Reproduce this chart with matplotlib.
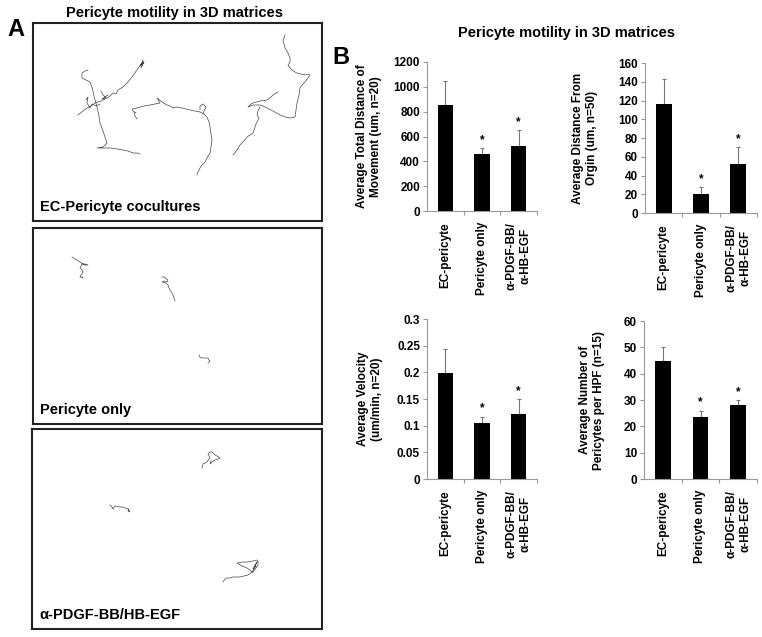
import matplotlib
matplotlib.use("Agg")
import matplotlib.pyplot as plt

plt.rcParams['font.family'] = ['Liberation Sans', 'DejaVu Sans']
plt.rcParams['font.weight'] = 'bold'

W, H = 762, 637

# ---------------- data ----------------
categories = ["EC-pericyte", "Pericyte only", "\u03b1-PDGF-BB/\n\u03b1-HB-EGF"]

dist_total = [855, 460, 525]
dist_total_err = [195, 45, 125]
dist_origin = [116, 20, 52]
dist_origin_err = [27, 8, 18]
velocity = [0.198, 0.105, 0.121]
velocity_err = [0.045, 0.012, 0.029]
n_pericytes = [45, 23.5, 28]
n_pericytes_err = [5, 2.5, 2]
significant = [False, True, True]

ticks_total = [0, 200, 400, 600, 800, 1000, 1200]
ticks_origin = [0, 20, 40, 60, 80, 100, 120, 140, 160]
ticks_velocity = [0, 0.05, 0.1, 0.15, 0.2, 0.25, 0.3]
ticklabels_velocity = ["0", "0.05", "0.1", "0.15", "0.2", "0.25", "0.3"]
ticks_number = [0, 10, 20, 30, 40, 50, 60]

ylabel_total = "Average Total Distance of\nMovement (um, n=20)"
ylabel_origin = "Average Distance From\nOrgin (um, n=50)"
ylabel_velocity = "Average Velocity\n(um/min, n=20)"
ylabel_number = "Average Number of\nPericytes per HPF (n=15)"

title_text = "Pericyte motility in 3D matrices"
box_labels = ["EC-Pericyte cocultures", "Pericyte only", "\u03b1-PDGF-BB/HB-EGF"]

# cell tracks (image pixel coordinates)
tracks_coculture = [
    [(78, 115), (83, 111), (87, 108), (91, 106), (95, 103), (101, 101), (107, 98), (110, 96),
     (113, 93), (116, 94), (118, 90), (123, 87), (127, 83), (132, 77), (134, 74), (137, 70),
     (139, 67), (142, 63), (140, 66), (143, 61), (141, 68), (144, 62), (142, 65), (143, 60)],
    [(88, 70), (85, 71), (82, 73), (82, 78), (86, 80), (90, 82), (92, 87), (94, 96), (97, 107),
     (99, 116), (100, 123), (103, 131), (105, 137), (107, 143), (103, 147), (97, 148), (104, 148),
     (110, 148), (117, 149), (123, 150), (128, 151), (133, 153), (137, 153), (140, 154)],
    [(86, 100), (88, 97), (87, 103), (90, 108), (92, 104), (96, 106), (100, 104)],
    [(101, 91), (103, 95), (106, 98), (102, 99), (108, 95)],
    [(136, 113), (133, 111), (132, 109), (137, 108), (144, 106), (150, 105), (155, 104),
     (160, 103), (157, 98), (162, 102), (167, 105), (170, 106), (173, 108), (177, 107),
     (182, 108), (186, 109), (190, 110), (195, 111), (200, 112), (204, 114), (207, 117),
     (209, 122), (210, 127), (211, 134), (212, 140), (211, 147), (210, 153), (207, 158),
     (205, 162), (202, 165), (200, 168), (198, 172), (197, 175)],
    [(200, 110), (200, 106), (203, 104), (206, 107), (204, 111), (203, 114)],
    [(134, 112), (135, 116), (137, 119)],
    [(285, 35), (284, 38), (283, 40), (284, 44), (285, 48), (287, 51), (288, 53), (290, 58),
     (290, 62), (288, 65), (290, 68), (292, 70), (295, 72), (297, 73), (301, 74), (305, 75),
     (308, 74), (310, 75), (308, 78), (305, 82), (302, 85), (300, 88), (299, 95), (297, 103),
     (296, 110), (295, 117), (290, 118), (285, 117), (280, 115), (273, 111), (267, 108),
     (263, 106), (260, 105), (256, 105), (253, 105), (248, 107), (251, 104), (253, 103),
     (260, 101), (267, 100), (270, 98), (273, 95), (276, 93), (278, 92)],
    [(260, 107), (258, 111), (257, 115), (259, 118), (258, 120), (256, 124), (255, 127),
     (254, 130), (253, 133), (250, 135), (247, 137), (244, 141), (240, 145), (237, 150),
     (233, 155)],
]
tracks_pericyte = [
    [(72, 257), (75, 259), (77, 260), (80, 262), (83, 264), (85, 265), (88, 265), (85, 264),
     (82, 264), (80, 268), (82, 270), (83, 272), (81, 275), (80, 277), (83, 277), (82, 278)],
    [(162, 277), (165, 277), (165, 278), (168, 280), (167, 282), (164, 281), (162, 282),
     (166, 283), (168, 285), (169, 288), (170, 290), (172, 293), (173, 295), (174, 298),
     (175, 301)],
    [(199, 355), (200, 357), (202, 358), (205, 358), (208, 358), (209, 360), (210, 361),
     (209, 362), (208, 363)],
]
tracks_antibody = [
    [(202, 468), (203, 464), (205, 463), (207, 462), (209, 459), (210, 458), (209, 456),
     (208, 454), (210, 452), (212, 452), (215, 455), (217, 456), (220, 458), (218, 459),
     (215, 460), (212, 462), (210, 464), (211, 461)],
    [(110, 505), (112, 507), (113, 509), (115, 506), (116, 506), (120, 507), (123, 507),
     (125, 508), (128, 509), (130, 512), (128, 511), (129, 509)],
    [(223, 582), (225, 579), (227, 578), (230, 578), (233, 577), (237, 577), (240, 577),
     (244, 576), (248, 575), (251, 573), (253, 572), (256, 568), (258, 565), (258, 562),
     (257, 560), (253, 561), (248, 562), (243, 562), (237, 563), (242, 566), (247, 568),
     (250, 570), (252, 572), (254, 569), (255, 567), (256, 564), (257, 562), (255, 565),
     (253, 569), (256, 566)],
]

# ---------------- layout helpers ----------------
def ax_px(fig, left, top, right, bottom):
    return fig.add_axes([left / W, 1 - bottom / H, (right - left) / W, (bottom - top) / H])

fig = plt.figure(figsize=(W / 100, H / 100), dpi=100)

# ---------------- panel A ----------------
boxes = [(33, 23, 322, 221), (33, 228, 322, 424), (32, 429, 322, 629)]
all_tracks = [tracks_coculture, tracks_pericyte, tracks_antibody]
for (l, t, r, b), tracks, lab in zip(boxes, all_tracks, box_labels):
    ax = ax_px(fig, l, t, r, b)
    ax.set_xlim(l, r)
    ax.set_ylim(b, t)
    ax.set_xticks([])
    ax.set_yticks([])
    for s in ax.spines.values():
        s.set_linewidth(1.5)
        s.set_color('#222222')
    for tr in tracks:
        xs = [p[0] for p in tr]
        ys = [p[1] for p in tr]
        ax.plot(xs, ys, color='#444444', lw=0.5)
    ax.text(0.025, 0.035, lab, transform=ax.transAxes, fontsize=10.5,
            fontweight='bold', ha='left', va='bottom')

fig.text(175 / W, 1 - 13 / H, title_text, fontsize=10.5, fontweight='bold',
         ha='center', va='center')
fig.text(16 / W, 1 - 30 / H, "A", fontsize=17, fontweight='bold', ha='center', va='center')
fig.text(341 / W, 1 - 58 / H, "B", fontsize=17, fontweight='bold', ha='center', va='center')
fig.text(566 / W, 1 - 33 / H, title_text, fontsize=10.5, fontweight='bold',
         ha='center', va='center')

# ---------------- panel B ----------------
FS = 8.5

def bar_chart(rect, vals, errs, ticks, ymax, ylabel, label_x, ticklabels=None):
    ax = ax_px(fig, *rect)
    x = list(range(len(vals)))
    ax.bar(x, vals, width=0.42, color='black', zorder=2)
    ax.errorbar(x, vals, yerr=[[0] * len(errs), errs], fmt='none', ecolor='#777777',
                elinewidth=0.8, capsize=1.5, capthick=0.8, zorder=1)
    for xi, v, e, sig in zip(x, vals, errs, significant):
        if sig:
            ax.annotate("*", (xi, v + e), xytext=(0, 1.5), textcoords='offset points',
                        ha='center', va='bottom', fontsize=FS, fontweight='bold')
    ax.set_xlim(-0.5, 2.5)
    ax.set_ylim(0, ymax)
    ax.set_yticks(ticks)
    if ticklabels is not None:
        ax.set_yticklabels(ticklabels)
    ax.set_xticks(x)
    ax.set_xticklabels(categories, rotation=90, fontsize=FS, fontweight='bold')
    ax.set_xticks([0.5, 1.5, 2.5], minor=True)
    ax.tick_params(axis='x', which='major', length=0, pad=8)
    ax.tick_params(axis='x', which='minor', length=3, color='#999999', width=0.8)
    ax.tick_params(axis='y', length=3, color='#999999', width=0.8, labelsize=FS, pad=2)
    for lbl in ax.get_yticklabels():
        lbl.set_fontweight('bold')
    ax.spines['top'].set_visible(False)
    ax.spines['right'].set_visible(False)
    for s in ('left', 'bottom'):
        ax.spines[s].set_color('#999999')
        ax.spines[s].set_linewidth(0.8)
    ax.set_ylabel(ylabel, fontsize=FS, fontweight='bold', va='center', linespacing=1.15)
    ax.yaxis.set_label_coords(label_x, 0.5)
    return ax

bar_chart((427, 62, 537, 211), dist_total, dist_total_err, ticks_total, 1200,
          ylabel_total, -0.527)
bar_chart((645, 63, 757, 213), dist_origin, dist_origin_err, ticks_origin, 160,
          ylabel_origin, -0.536)
bar_chart((427, 319, 537, 479), velocity, velocity_err, ticks_velocity, 0.3,
          ylabel_velocity, -0.518, ticklabels_velocity)
bar_chart((644, 321, 757, 479), n_pericytes, n_pericytes_err, ticks_number, 60,
          ylabel_number, -0.46)

fig.savefig("out.png", dpi=100, facecolor='white')
